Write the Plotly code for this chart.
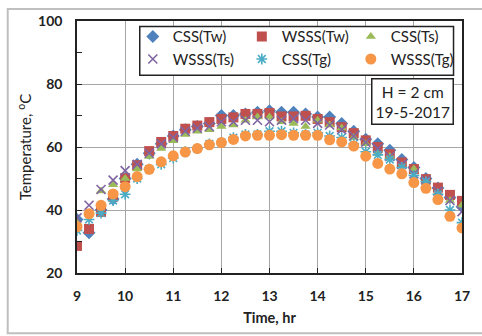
import plotly.graph_objects as go

time_hr = [9 + 0.25 * i for i in range(33)]

css_tw = [37.0, 32.8, 40.0, 43.5, 50.0, 54.5, 58.0, 61.0, 63.5, 65.5, 66.5, 67.5, 70.0, 70.0, 70.5, 71.0,
          71.5, 71.0, 71.0, 70.5, 69.5, 69.5, 67.5, 65.0, 62.5, 61.0, 59.0, 56.0, 53.5, 50.0, 47.0, 44.0, 41.0]
wsss_tw = [28.6, 34.0, 39.4, 44.3, 50.1, 54.2, 58.7, 61.6, 63.5, 65.8, 66.8, 67.9, 68.9, 69.4, 70.5, 70.5,
           70.8, 69.7, 69.7, 69.9, 68.9, 67.9, 66.3, 64.4, 62.1, 60.0, 57.7, 55.1, 53.0, 49.8, 47.1, 44.8, 42.9]
css_ts = [36.0, 39.0, 46.0, 48.0, 50.0, 53.0, 57.0, 59.5, 62.0, 64.0, 65.0, 65.5, 66.5, 67.0, 68.5, 69.5,
          69.5, 68.0, 67.5, 66.5, 68.5, 67.0, 66.0, 63.0, 61.0, 58.0, 57.0, 54.0, 53.0, 49.0, 45.5, 43.0, 41.5]
wsss_ts = [37.5, 41.5, 46.5, 49.5, 52.5, 54.5, 58.0, 61.0, 63.0, 65.0, 66.0, 66.5, 68.0, 68.0, 68.5, 68.5,
           68.0, 68.5, 69.0, 68.5, 67.5, 67.0, 65.5, 63.5, 61.5, 59.5, 57.0, 54.5, 51.5, 49.5, 46.0, 43.0, 39.5]
css_tg = [33.5, 37.0, 39.0, 43.0, 45.0, 50.0, 53.0, 54.5, 56.5, 58.5, 59.5, 61.0, 61.5, 63.0, 64.0, 64.0,
          65.0, 65.0, 64.5, 64.0, 64.5, 63.5, 63.0, 61.0, 58.5, 57.5, 56.0, 53.5, 51.0, 49.0, 45.0, 40.0, 36.0]
wsss_tg = [34.7, 38.8, 41.5, 45.1, 47.4, 50.6, 52.9, 55.3, 57.2, 58.4, 59.5, 60.7, 61.4, 62.4, 63.5, 63.7,
           63.7, 63.9, 63.7, 63.7, 63.7, 62.3, 61.6, 60.3, 57.1, 54.8, 53.0, 51.5, 48.7, 46.9, 43.3, 38.0, 34.3]

series = [
    ("CSS(Tw)", css_tw, "diamond", "#4F81BD", 10),
    ("WSSS(Tw)", wsss_tw, "square", "#C0504D", 10),
    ("CSS(Ts)", css_ts, "triangle-up", "#9BBB59", 9),
    ("WSSS(Ts)", wsss_ts, "x-thin-open", "#8064A2", 9),
    ("CSS(Tg)", css_tg, "asterisk-open", "#4BACC6", 9),
    ("WSSS(Tg)", wsss_tg, "circle", "#F79646", 11),
]

FONT = "Lato"
INK = "#222222"
fig = go.Figure()
for name, vals, sym, col, sz in series:
    line = dict(color=col, width=1.6) if "open" in sym else dict(width=0)
    fig.add_trace(go.Scatter(x=time_hr, y=vals, mode="markers", name=name,
                             marker=dict(symbol=sym, color=col, size=sz, line=line)))

fig.update_layout(
    width=482, height=336,
    margin=dict(l=77, r=14, t=19, b=62),
    paper_bgcolor="white", plot_bgcolor="white",
    font=dict(family=FONT, color="black"),
    showlegend=True,
    legend=dict(orientation="h", x=0.145, xanchor="left", y=1.003, yanchor="top",
                bgcolor="rgba(0,0,0,0)", borderwidth=0,
                font=dict(family=FONT, size=15, color=INK),
                entrywidth=64, entrywidthmode="pixels", itemwidth=30),
    xaxis=dict(range=[9, 17], dtick=1, tick0=9, showgrid=True, gridcolor="#A6A6A6", gridwidth=1,
               showline=True, linecolor=INK, linewidth=1.5, mirror=True,
               ticks="inside", ticklen=5, tickcolor=INK,
               tickfont=dict(family=FONT, size=14, color=INK, weight="bold"),
               ticklabelstandoff=9, zeroline=False,
               title=dict(text="<b>Time, hr</b>", font=dict(family=FONT, size=14.5, color=INK),
                          standoff=10)),
    yaxis=dict(range=[20, 100], dtick=20, tick0=20, showgrid=True, gridcolor="#A6A6A6", gridwidth=1,
               showline=True, linecolor=INK, linewidth=1.5, mirror=True,
               ticks="inside", ticklen=5, tickcolor=INK,
               minor=dict(dtick=10, ticks="inside", ticklen=5, tickcolor=INK, showgrid=False),
               tickfont=dict(family=FONT, size=14, color=INK, weight="bold"),
               ticklabelstandoff=10, zeroline=False,
               title=dict(text="Temperature, <sup>o</sup>C", font=dict(family=FONT, size=15, color=INK),
                          standoff=3)),
    annotations=[dict(text="H = 2 cm<br>19-5-2017", xref="paper", yref="paper",
                      x=0.978, y=0.773, xanchor="right", yanchor="top", showarrow=False,
                      font=dict(family=FONT, size=15.5, color=INK),
                      bgcolor="white", bordercolor=INK, borderwidth=1.5, borderpad=3)],
    shapes=[
        dict(type="rect", xref="paper", yref="paper", x0=-0.180, x1=1.06, y0=-0.2395, y1=1.048,
             line=dict(color="#BFBFBF", width=2), layer="below"),
        dict(type="rect", xref="paper", yref="paper", x0=0.163, x1=0.978, y0=0.785, y1=0.978,
             fillcolor="white", line=dict(color=INK, width=1.5), layer="above"),
    ],
)

fig.write_html("out.html")
